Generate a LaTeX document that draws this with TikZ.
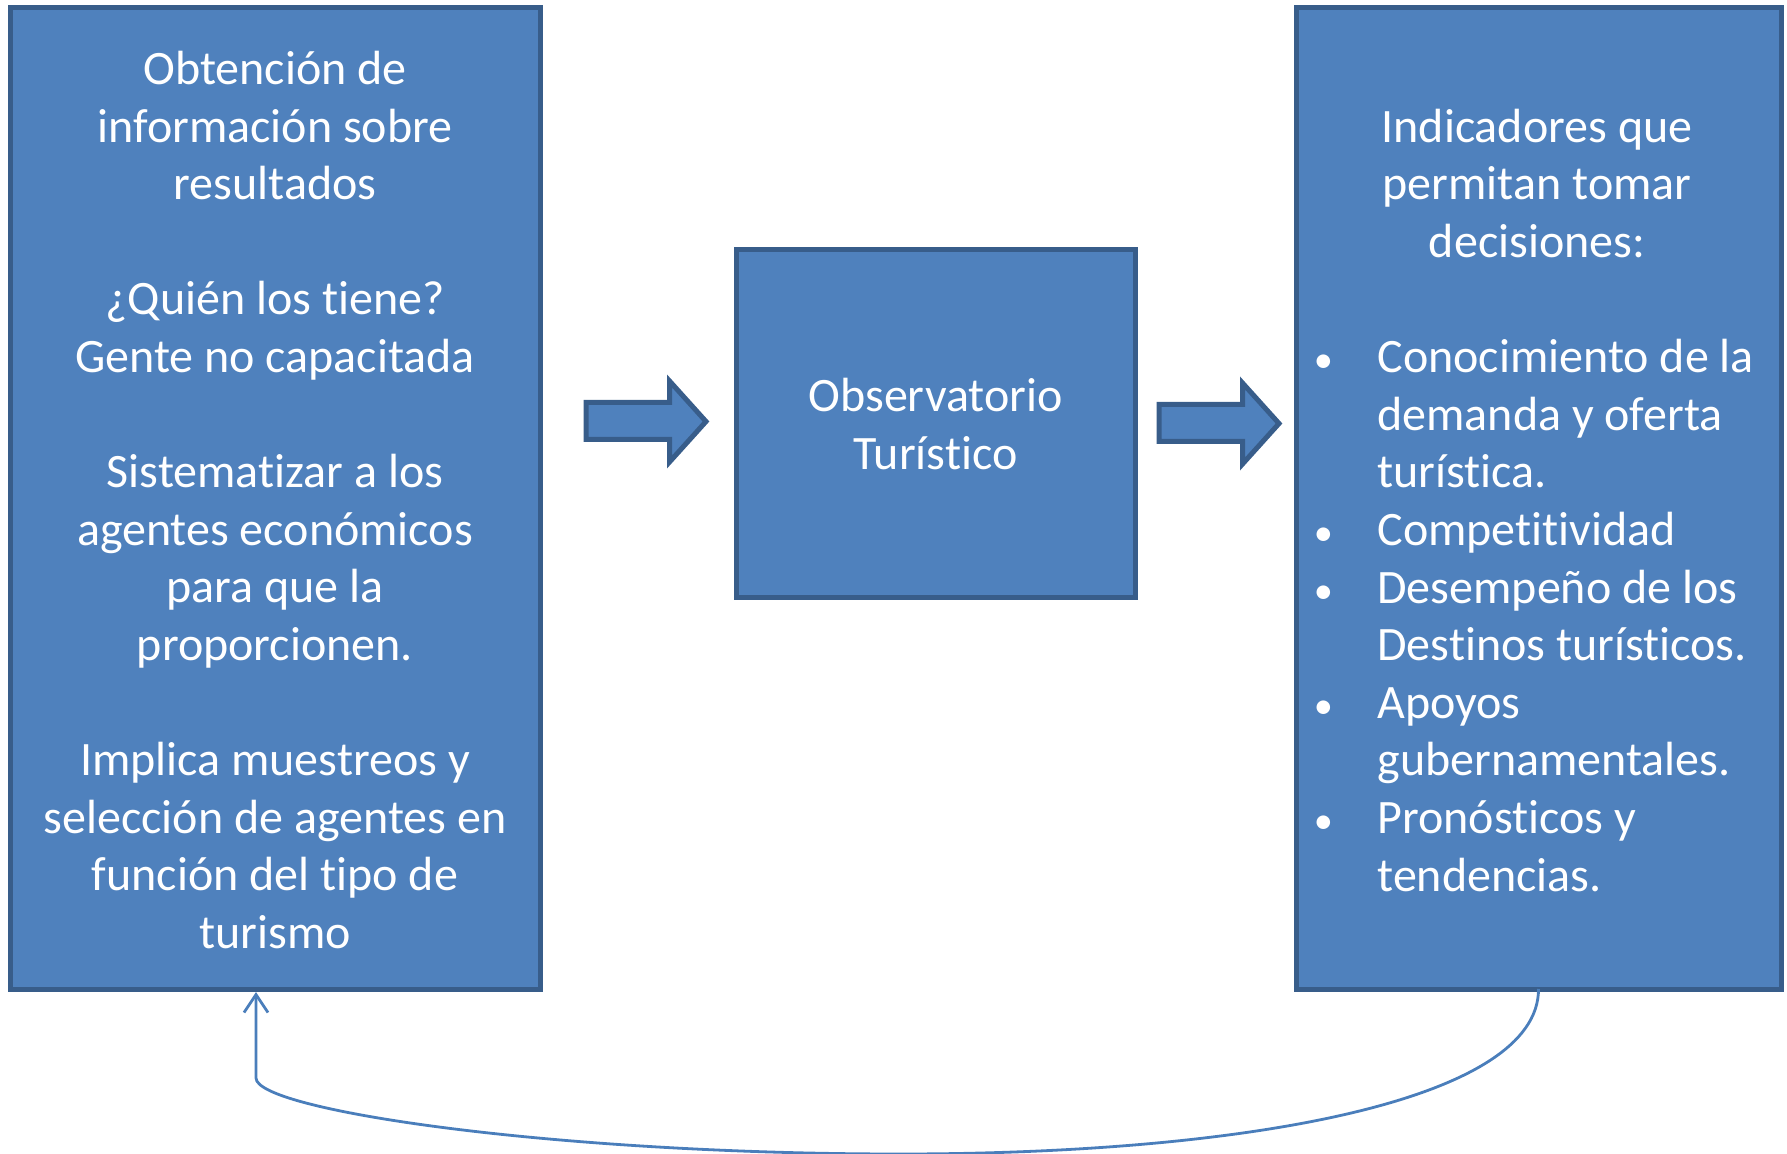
\documentclass[tikz,border=0pt]{standalone}
\usepackage{fontspec}
\setmainfont{Carlito}[Ligatures={NoCommon}]
\usetikzlibrary{arrows.meta}
\definecolor{boxfill}{HTML}{4F81BD}
\definecolor{boxline}{HTML}{385D8A}
\definecolor{curveline}{HTML}{4A7EBB}
\tikzset{
  bluebox/.style={draw=boxline, fill=boxfill, line width=2.5pt, rectangle, inner sep=0pt, outer sep=0pt},
  txt/.style={text=white, font=\fontsize{24}{28.8}\selectfont, inner sep=0pt},
  blockarrow/.style={draw=boxline, fill=boxfill, line width=2.5pt, line join=miter},
  feedback/.style={draw=curveline, line width=1.4pt, -{Straight Barb[length=9pt, width=12pt, line width=1.4pt]}}
}
\begin{document}
\begin{tikzpicture}[x=0.5pt, y=-0.5pt]
\useasboundingbox (0,0) rectangle (1787,1154);
% boxes
\node[bluebox, minimum width=264.75pt, minimum height=490.5pt] (L) at (275.25,498.5) {};
\node[bluebox, minimum width=199.5pt, minimum height=173.5pt] (M) at (935.5,423.5) {};
\node[bluebox, minimum width=242.5pt, minimum height=490.5pt] (R) at (1538.5,498.5) {};
% texts
\node[txt, align=center] (Ltext) at (275,500) {Obtención de\\información sobre\\resultados\\[28.8pt]¿Quién los tiene?\\Gente no capacitada\\[28.8pt]Sistematizar a los\\agentes económicos\\para que la\\proporcionen.\\[28.8pt]Implica muestreos y\\selección de agentes en\\función del tipo de\\turismo};
\node[txt, align=center] (Mtext) at (935.5,424) {Observatorio\\Turístico};
\node[txt, align=center] (Rhead) at (1537,183.5) {Indicadores que\\permitan tomar\\decisiones:};
\newcommand{\bul}{\llap{\makebox[0pt][c]{\scalebox{0.8}{•}}\hspace{27pt}}}
\node[txt, align=left, anchor=west] (Rlist) at (1377,615.5) {\bul Conocimiento de la\\demanda y oferta\\turística.\\\bul Competitividad\\\bul Desempeño de los\\Destinos turísticos.\\\bul Apoyos\\gubernamentales.\\\bul Pronósticos y\\tendencias.};
% block arrows
\draw[blockarrow] (586,402.5) -- (669.5,402.5) -- (669.5,381) -- (706,421.5) -- (669.5,462) -- (669.5,439.5) -- (586,439.5) -- cycle;
\draw[blockarrow] (1159,404.5) -- (1242.5,404.5) -- (1242.5,383) -- (1279,423.5) -- (1242.5,464) -- (1242.5,441.5) -- (1159,441.5) -- cycle;
% feedback curve
\coordinate (Lend) at (256,992);
\draw[feedback] (R.south) .. controls (1539,1100) and (1250,1154) .. (900,1154)
  .. controls (550,1154) and (256,1110) .. (256,1078) -- (Lend);
\end{tikzpicture}
\end{document}
